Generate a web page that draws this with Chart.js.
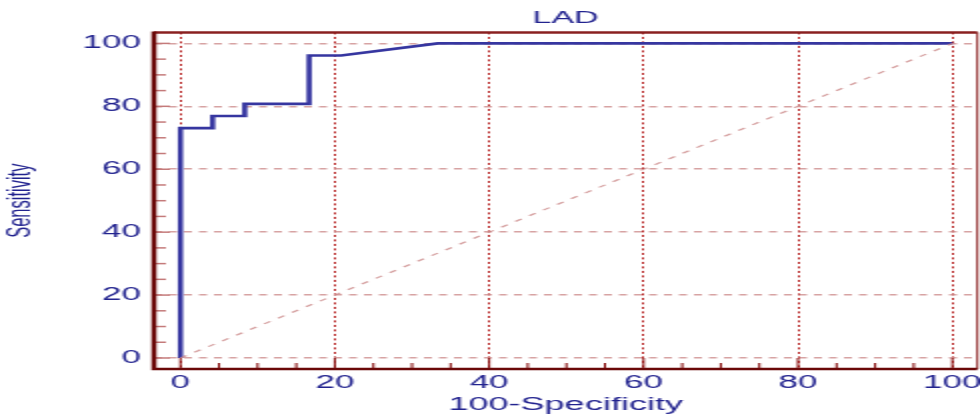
<!DOCTYPE html>
<html>
<head>
<meta charset="utf-8">
<script src="https://cdn.jsdelivr.net/npm/chart.js@4.4.1/dist/chart.umd.min.js"></script>
<style>
  html, body { margin: 0; padding: 0; background: #fff; overflow: hidden; }
  /* the original plot is stretched 2x horizontally */
  #wrap { width: 490px; height: 417px; transform: scaleX(2); transform-origin: 0 0; }
</style>
</head>
<body>
<div id="wrap"><canvas id="rocChart"></canvas></div>
<script>
// ROC curve (100-Specificity vs Sensitivity)
const fpr = [0, 0, 4.17, 4.17, 8.33, 8.33, 16.67, 16.67, 20.83, 33.33, 100];
const sens = [0, 73.08, 73.08, 76.92, 76.92, 80.77, 80.77, 96.15, 96.15, 100, 100];
// reference diagonal
const diagX = [0, 100];
const diagY = [0, 100];

const majorTicks = [0, 20, 40, 60, 80, 100];
const minorTicks = [0, 5, 10, 15, 20, 25, 30, 35, 40, 45, 50, 55, 60, 65, 70, 75, 80, 85, 90, 95, 100];

const textColor = '#22238f';
const fontFamily = '"Liberation Sans", Arial, sans-serif';

const frameAndTicks = {
  id: 'frameAndTicks',
  beforeDatasetsDraw(chart) {
    const { ctx, chartArea: a, scales: { x, y } } = chart;
    ctx.save();
    minorTicks.forEach((v) => {
      const major = majorTicks.includes(v);
      const py = y.getPixelForValue(v);
      ctx.strokeStyle = '#c47a7a';
      ctx.lineWidth = 1.5;
      ctx.beginPath();
      ctx.moveTo(a.left, py);
      ctx.lineTo(a.left + (major ? 8 : 6), py);
      ctx.stroke();

      const px = x.getPixelForValue(v);
      ctx.strokeStyle = '#800000';
      ctx.lineWidth = 1;
      ctx.beginPath();
      ctx.moveTo(px, a.bottom);
      ctx.lineTo(px, a.bottom - (major ? 11 : 6));
      ctx.stroke();
    });
    ctx.restore();
  },
  afterDatasetsDraw(chart) {
    const { ctx, chartArea: a } = chart;
    ctx.save();
    ctx.strokeStyle = '#8a2020';
    ctx.lineWidth = 2.5;
    ctx.beginPath();
    ctx.moveTo(a.left, a.top);
    ctx.lineTo(a.right, a.top);
    ctx.stroke();
    ctx.lineWidth = 1;
    ctx.beginPath();
    ctx.moveTo(a.right, a.top);
    ctx.lineTo(a.right, a.bottom);
    ctx.stroke();
    ctx.strokeStyle = '#6a0808';
    ctx.lineWidth = 2.5;
    ctx.beginPath();
    ctx.moveTo(a.left, a.top - 1);
    ctx.lineTo(a.left, a.bottom);
    ctx.lineTo(a.right, a.bottom);
    ctx.stroke();
    ctx.restore();
  },
};

const data_set = {
  datasets: [
    {
      data: diagX.map((v, i) => ({ x: v, y: diagY[i] })),
      showLine: true,
      borderColor: 'rgba(205, 140, 140, 0.85)',
      borderWidth: 1.2,
      borderDash: [4, 5],
      pointRadius: 0,
    },
    {
      data: fpr.map((v, i) => ({ x: v, y: sens[i] })),
      showLine: true,
      borderColor: '#3636a0',
      borderWidth: 2.6,
      pointRadius: 0,
    },
  ],
};

const config = {
  type: 'scatter',
  data: data_set,
  plugins: [frameAndTicks],
  options: {
    responsive: true,
    maintainAspectRatio: false,
    animation: false,
    devicePixelRatio: 1,
    layout: { padding: { left: 0, right: 1, top: 0, bottom: 0 } },
    plugins: {
      legend: { display: false },
      tooltip: { enabled: false },
      title: {
        display: true,
        text: 'LAD',
        fullSize: false,
        color: textColor,
        font: { family: fontFamily, size: 17, weight: 'normal' },
        padding: { top: 8, bottom: 4 },
      },
    },
    scales: {
      x: {
        type: 'linear',
        min: -3.43,
        max: 103.24,
        afterBuildTicks: (s) => { s.ticks = majorTicks.map((v) => ({ value: v })); },
        afterFit: (s) => { s.height = 48; s.paddingLeft = 0; s.paddingRight = 0; },
        grid: { color: '#b41e1e', lineWidth: 1, drawTicks: false },
        border: { display: false, dash: [2, 2.5] },
        ticks: {
          color: textColor,
          font: { family: fontFamily, size: 17.5 },
          padding: 4,
          maxRotation: 0,
          autoSkip: false,
        },
        title: {
          display: true,
          text: '100-Specificity',
          color: textColor,
          font: { family: fontFamily, size: 18, lineHeight: 1.1 },
          padding: { top: 0, bottom: 2 },
        },
      },
      y: {
        type: 'linear',
        min: -3.5,
        max: 103.5,
        afterBuildTicks: (s) => { s.ticks = majorTicks.map((v) => ({ value: v })); },
        afterFit: (s) => { s.width = 77; s.paddingTop = 0; s.paddingBottom = 0; },
        grid: { color: 'rgba(205, 140, 140, 0.8)', lineWidth: 1.5, drawTicks: false },
        border: { display: false, dash: [4, 3.5] },
        ticks: {
          color: textColor,
          font: { family: fontFamily, size: 17.5 },
          padding: 6.5,
        },
        title: {
          display: true,
          text: 'Sensitivity',
          color: textColor,
          font: { family: fontFamily, size: 16.5, lineHeight: 1 },
          padding: { top: 2.5, bottom: 0 },
        },
      },
    },
  },
};

const ctx = document.getElementById('rocChart').getContext('2d');
new Chart(ctx, config);
</script>
</body>
</html>
